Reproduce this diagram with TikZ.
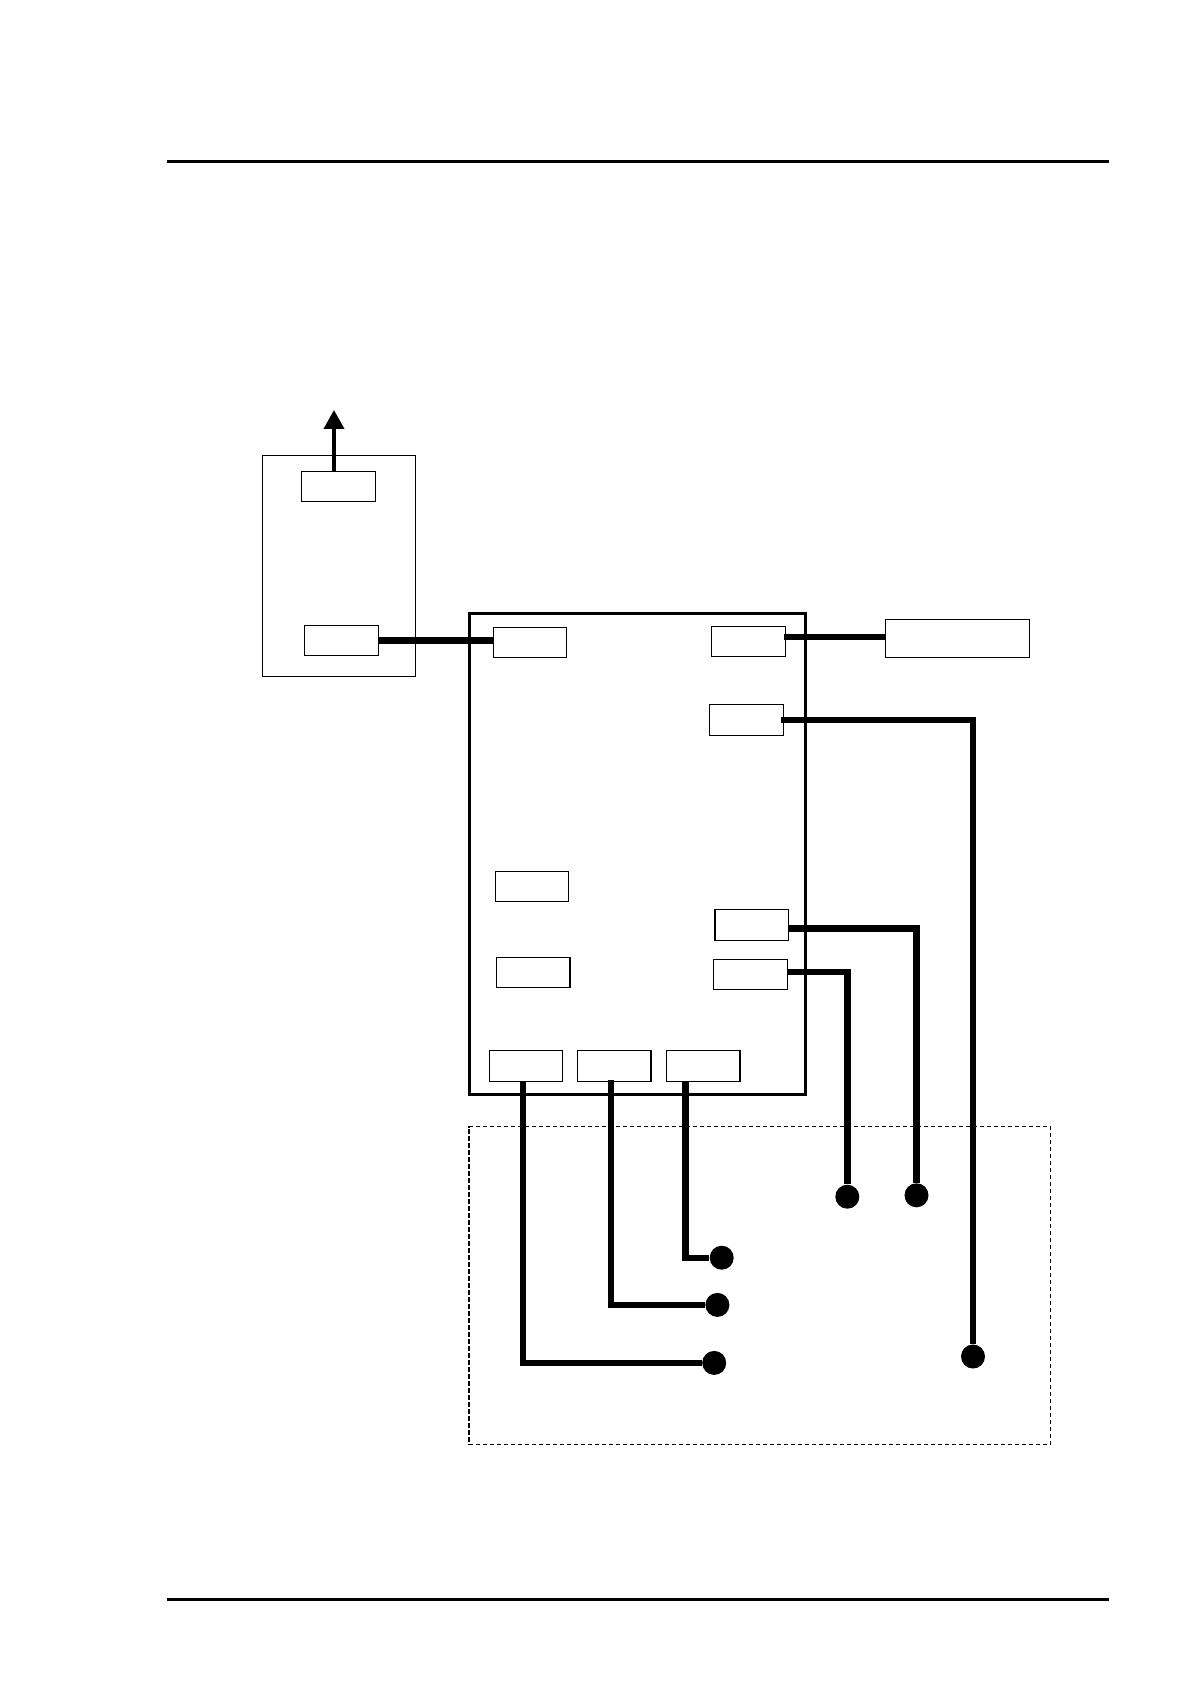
\documentclass[tikz,border=0pt]{standalone}
\usepackage{xcolor}
\usetikzlibrary{positioning,arrows.meta}

\begin{document}
\begin{tikzpicture}[x=0.5pt,y=-0.5pt,p/.style={draw,line width=0.65pt,inner sep=0pt,fill=white,minimum width=36.75pt,minimum height=15pt},
frame/.style={draw,inner sep=0pt},w/.style={line width=3.2pt},rl/.style={line width=1.5pt},
pin/.style={circle,fill=black,inner sep=0pt,minimum size=12pt},>={Triangle[width=10pt,length=9.5pt]}]
\useasboundingbox (0,0) rectangle (1190,1684);
\coordinate (tl) at (167,161.5); \coordinate (tr) at (1109,161.5); \draw[rl] (tl)--(tr);
\coordinate (bl) at (167,1599.5); \coordinate (br) at (1109,1599.5); \draw[rl] (bl)--(br);
\node[frame,line width=0.9pt,dash pattern=on 2.2pt off 1.3pt,minimum width=290.8pt,minimum height=159pt] (bay) at (759.6,1285.55) {};
\node[frame,line width=0.65pt,minimum width=76.7pt,minimum height=110.5pt] (sens) at (339,565.8) {};
\node[frame,line width=1.5pt,minimum width=167.65pt,minimum height=240.35pt] (ctrl) at (637.4,853.7) {};
\node[p] (s1) at (338.5,486.3) {};
\node[p] (s2) at (341.5,640.5) {};
\node[p] (a) at (530,642.3) {};
\node[p] (b) at (748.5,641.3) {};
\node[p,minimum height=15.5pt] (c) at (746.5,719.8) {};
\node[p,minimum width=72.2pt,minimum height=19pt] (ext) at (957.5,638.3) {};
\node[p] (d) at (532,886.3) {};
\node[p,below=27.35pt of d,xshift=0.65pt] (e) {};
\node[p,minimum height=15.5pt] (f) at (751.8,924.8) {};
\node[p,below=8.85pt of f,xshift=-0.65pt] (g) {};
\node[p,minimum height=15.5pt] (h) at (526,1065.8) {};
\node[p,minimum height=15.5pt,right=6.65pt of h] (i) {};
\node[p,minimum height=15.5pt,right=7.15pt of i] (j) {};
% contacts in the lower frame
\node[pin] (c1) at (847.3,1196.7) {};
\node[pin] (c2) at (916.5,1195.3) {};
\node[pin] (c3) at (721.7,1257.7) {};
\node[pin] (c4) at (717.4,1304.9) {};
\node[pin] (c5) at (714.2,1362.9) {};
\node[pin] (c6) at (973,1356.5) {};
\coordinate (up) at (334,410); \draw[->,line width=2pt] (up |- s1.north)--(up);
\draw[w] ([xshift=-0.7pt]s2.east)--(s2.east -| a.west);
\draw[w] ([yshift=0.8pt,xshift=-1.2pt]b.east |- ext.west)--([yshift=0.8pt]ext.west);
\draw[w] ([xshift=-1.3pt]c.east)-|(c6);
\draw[w] ([xshift=-0.6pt,yshift=-1.9pt]f.east)-|(c2);
\draw[w] ([xshift=-0.6pt,yshift=1.1pt]g.east)-|(c1);
\draw[w] ([xshift=-1.5pt,yshift=0.5pt]h.south)|-(c5);
\draw[w] ([xshift=-1.5pt,yshift=1.2pt]i.south)|-(c4);
\draw[w] ([xshift=-8.9pt,yshift=0.5pt]j.south)|-(c3);
\end{tikzpicture}
\end{document}
